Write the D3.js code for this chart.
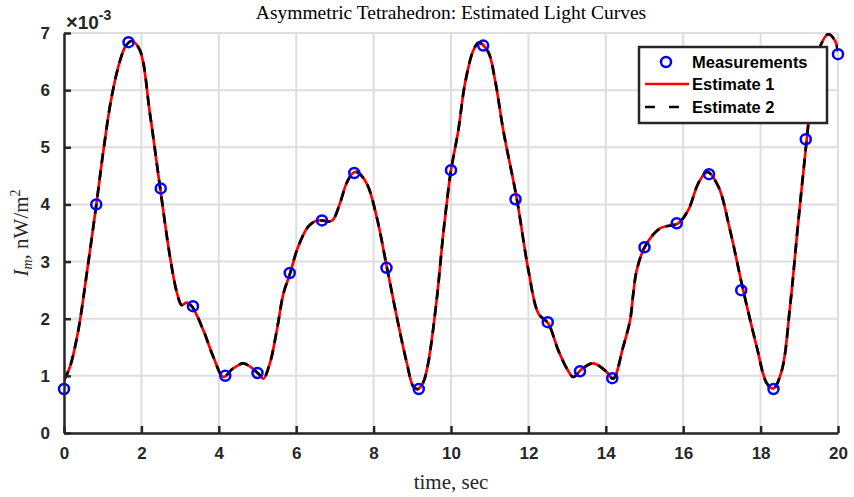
<!DOCTYPE html>
<html>
<head>
<meta charset="utf-8">
<script src="https://cdn.jsdelivr.net/npm/d3@7"></script>
<style>
  body { margin: 0; background: #fff; }
  svg { display: block; }
</style>
</head>
<body>
<div id="chart"></div>
<script>
// measurements (x1e-3)
const measT = [0, 0.833, 1.667, 2.5, 3.333, 4.167, 5, 5.833, 6.667, 7.5, 8.333, 9.167,
               10, 10.833, 11.667, 12.5, 13.333, 14.167, 15, 15.833, 16.667, 17.5, 18.333, 19.167, 20];
const measV = [0.77, 4.0, 6.84, 4.28, 2.22, 1.0, 1.05, 2.8, 3.72, 4.55, 2.89, 0.77,
               4.6, 6.78, 4.09, 1.94, 1.08, 0.96, 3.25, 3.67, 4.53, 2.5, 0.77, 5.14, 6.63];

// estimated light curve (both estimates overlap)
const curveT = [0, 0.155, 0.37, 0.59, 0.84, 1.02, 1.23, 1.45, 1.6, 1.75, 1.96, 2.22, 2.48, 2.74, 2.92,
  3.04, 3.17, 3.3, 3.6, 3.86, 4.12, 4.35, 4.63, 4.81, 5.02, 5.15, 5.32, 5.5, 5.67, 5.84, 6.05,
  6.31, 6.5, 6.66, 6.85, 6.96, 7.13, 7.3, 7.45, 7.56, 7.82, 8.08, 8.34, 8.6, 8.86, 9.03, 9.15,
  9.28, 9.41, 9.63, 9.8, 9.93, 10.0, 10.19, 10.36, 10.58, 10.72, 10.96, 11.14, 11.35, 11.7,
  12.0, 12.26, 12.51, 12.77, 13.0, 13.16, 13.38, 13.68, 14.02, 14.19, 14.45, 14.63, 14.71, 14.8,
  15.01, 15.4, 15.87, 16.13, 16.39, 16.62, 16.91, 17.21, 17.55, 17.9, 18.16, 18.33, 18.55,
  18.76, 18.97, 19.19, 19.36, 19.53, 19.75, 19.92, 20.0];
const curveV = [0.92, 1.16, 1.8, 2.8, 4.02, 4.95, 5.88, 6.52, 6.78, 6.86, 6.7, 5.59, 4.31, 3.08, 2.45,
  2.24, 2.28, 2.22, 1.8, 1.33, 0.98, 1.12, 1.22, 1.16, 1.04, 0.95, 1.22, 1.8, 2.44, 2.79, 3.26,
  3.61, 3.71, 3.72, 3.7, 3.74, 4.02, 4.37, 4.54, 4.57, 4.37, 3.78, 2.91, 2.03, 1.22, 0.81, 0.77,
  0.88, 1.22, 2.33, 3.49, 4.25, 4.6, 5.3, 6.11, 6.7, 6.83, 6.67, 6.17, 5.3, 4.1,
  2.85, 2.09, 1.92, 1.45, 1.12, 0.98, 1.12, 1.22, 1.07, 0.95, 1.51, 1.98, 2.44, 2.85,
  3.26, 3.58, 3.67, 3.9, 4.37, 4.57, 4.31, 3.55, 2.5, 1.51, 0.87, 0.78, 1.1,
  2.21, 3.67, 5.12, 6.17, 6.75, 6.98, 6.87, 6.68];

const xTicks = [0, 2, 4, 6, 8, 10, 12, 14, 16, 18, 20];
const yTicks = [0, 1, 2, 3, 4, 5, 6, 7];
const legendLabels = ["Measurements", "Estimate 1", "Estimate 2"];

const W = 854, H = 497;
const margin = { top: 33, right: 16, bottom: 64, left: 64 },
      width  = W - margin.left - margin.right,
      height = H - margin.top - margin.bottom;

const svg = d3.select("#chart").append("svg")
  .attr("width", W).attr("height", H);

const g = svg.append("g")
  .attr("transform", `translate(${margin.left},${margin.top})`);

const x = d3.scaleLinear().domain([0, 20]).range([0, width]);
const y = d3.scaleLinear().domain([0, 7]).range([height, 0]);

// grid
g.append("g").selectAll("line").data(xTicks).join("line")
  .attr("x1", d => x(d)).attr("x2", d => x(d))
  .attr("y1", 0).attr("y2", height)
  .attr("stroke", "#dedede").attr("stroke-width", 2);
g.append("g").selectAll("line").data(yTicks).join("line")
  .attr("x1", 0).attr("x2", width)
  .attr("y1", d => y(d)).attr("y2", d => y(d))
  .attr("stroke", "#dedede").attr("stroke-width", 2);

// clip
svg.append("defs").append("clipPath").attr("id", "clip")
  .append("rect").attr("x", 0).attr("y", 0).attr("width", width).attr("height", height);

const curveData = curveT.map((t, i) => ({ t, v: curveV[i] }));
const line = d3.line()
  .x(d => x(d.t))
  .y(d => y(d.v))
  .curve(d3.curveCatmullRom.alpha(0.5));

const plot = g.append("g").attr("clip-path", "url(#clip)");

plot.append("path").datum(curveData)
  .attr("fill", "none").attr("stroke", "#ff0000").attr("stroke-width", 2.7)
  .attr("d", line);
plot.append("path").datum(curveData)
  .attr("fill", "none").attr("stroke", "#000").attr("stroke-width", 2.7)
  .attr("stroke-dasharray", "10,7")
  .attr("d", line);

// measurement markers
g.append("g").selectAll("circle")
  .data(measT.map((t, i) => ({ t, v: measV[i] })))
  .join("circle")
  .attr("cx", d => x(d.t)).attr("cy", d => y(d.v))
  .attr("r", 5)
  .attr("fill", "none").attr("stroke", "#0000ff").attr("stroke-width", 2.5);

// axes
const xAxis = g.append("g")
  .attr("transform", `translate(0,${height})`)
  .call(d3.axisBottom(x).tickValues(xTicks).tickFormat(d3.format("d"))
    .tickSizeInner(-7).tickSizeOuter(0).tickPadding(14));
const yAxis = g.append("g")
  .call(d3.axisLeft(y).tickValues(yTicks).tickFormat(d3.format("d"))
    .tickSizeInner(-7).tickSizeOuter(0).tickPadding(14));

[xAxis, yAxis].forEach(a => {
  a.select(".domain").attr("stroke", "#262626").attr("stroke-width", 2.5);
  a.selectAll(".tick line").attr("stroke", "#262626").attr("stroke-width", 2.5);
  a.selectAll("text")
    .attr("fill", "#262626")
    .style("font-family", "Liberation Sans, Arial, sans-serif")
    .style("font-weight", "bold")
    .style("font-size", "17px");
});

// exponent label
const expo = svg.append("text")
  .attr("x", 66).attr("y", 29)
  .attr("fill", "#262626")
  .style("font-family", "Liberation Sans, Arial, sans-serif")
  .style("font-weight", "bold")
  .style("font-size", "19px");
expo.append("tspan").style("font-size", "20px").text("\u00d7");
expo.append("tspan").text("10");
expo.append("tspan").attr("dy", -9).style("font-size", "14px").text("-3");

// title
svg.append("text")
  .attr("x", margin.left + width / 2).attr("y", 19)
  .attr("text-anchor", "middle")
  .attr("fill", "#000")
  .style("font-family", "Liberation Serif, Times New Roman, serif")
  .style("font-size", "19.5px")
  .text("Asymmetric Tetrahedron: Estimated Light Curves");

// x label
svg.append("text")
  .attr("x", margin.left + width / 2).attr("y", 489)
  .attr("text-anchor", "middle")
  .attr("fill", "#262626")
  .style("font-family", "Liberation Serif, Times New Roman, serif")
  .style("font-size", "21px")
  .text("time, sec");

// y label
const yl = svg.append("text")
  .attr("transform", `translate(28,${margin.top + height / 2}) rotate(-90)`)
  .attr("text-anchor", "middle")
  .attr("fill", "#262626")
  .style("font-family", "Liberation Serif, Times New Roman, serif")
  .style("font-size", "21px");
yl.append("tspan").style("font-style", "italic").text("I");
yl.append("tspan").attr("dy", 4).style("font-style", "italic").style("font-size", "14px").text("m");
yl.append("tspan").attr("dy", -4).text(", nW/m");
yl.append("tspan").attr("dy", -8).style("font-size", "14px").text("2");

// legend
const lg = svg.append("g").attr("transform", "translate(639,47)");
lg.append("rect")
  .attr("width", 188).attr("height", 76)
  .attr("fill", "#fff").attr("stroke", "#262626").attr("stroke-width", 2.5);
const rowY = [15, 37, 60];
lg.append("circle").attr("cx", 27).attr("cy", rowY[0]).attr("r", 5)
  .attr("fill", "none").attr("stroke", "#0000ff").attr("stroke-width", 2.5);
lg.append("line").attr("x1", 6).attr("x2", 50).attr("y1", rowY[1]).attr("y2", rowY[1])
  .attr("stroke", "#ff0000").attr("stroke-width", 2.7);
lg.append("line").attr("x1", 6).attr("x2", 50).attr("y1", rowY[2]).attr("y2", rowY[2])
  .attr("stroke", "#000").attr("stroke-width", 2.7).attr("stroke-dasharray", "10,14");
lg.selectAll("text.lab").data(legendLabels).join("text")
  .attr("class", "lab")
  .attr("x", 53).attr("y", (d, i) => rowY[i] + 6)
  .attr("fill", "#000")
  .style("font-family", "Liberation Sans, Arial, sans-serif")
  .style("font-weight", "bold")
  .style("font-size", "16.5px")
  .text(d => d);
</script>
</body>
</html>
